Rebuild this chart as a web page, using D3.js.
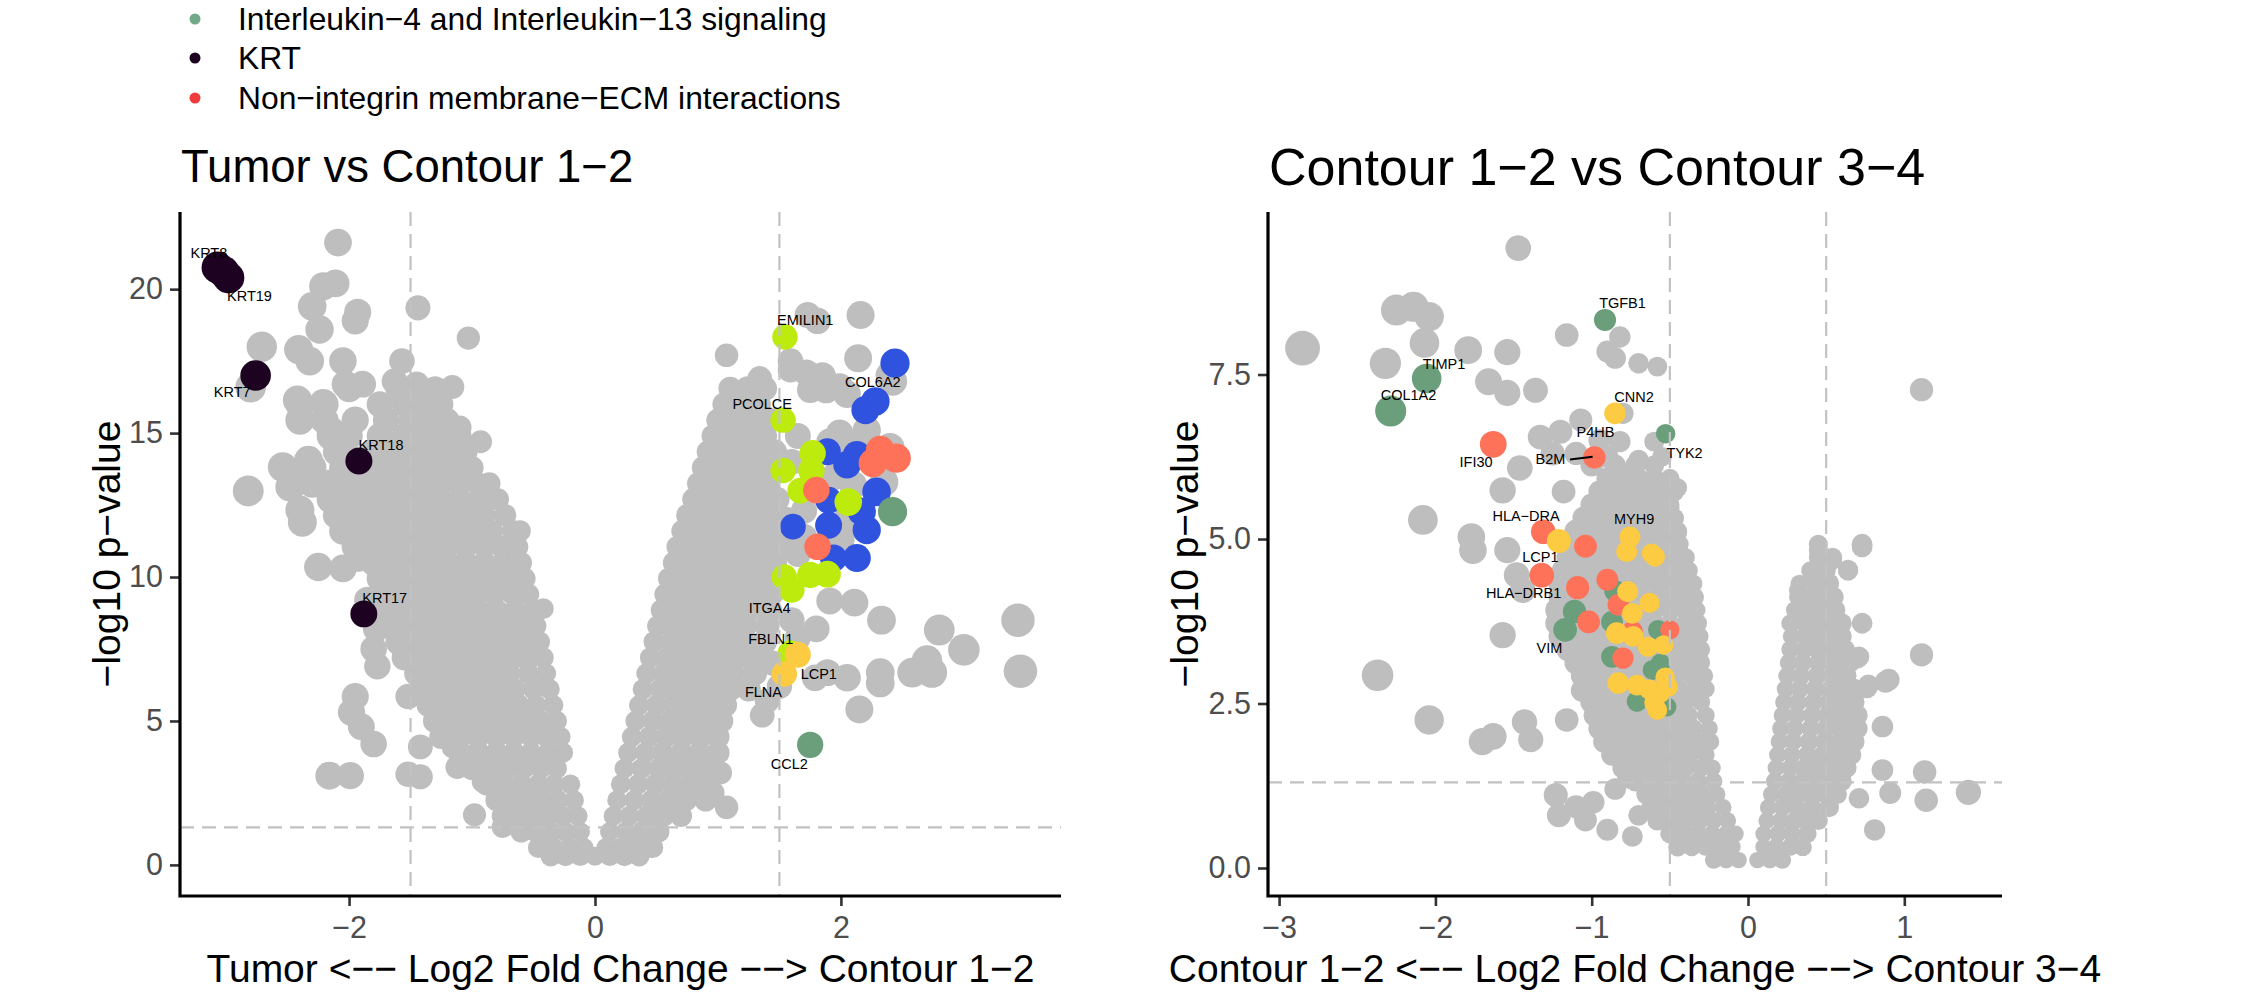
<!DOCTYPE html>
<html><head><meta charset="utf-8">
<script src="https://cdn.jsdelivr.net/npm/d3@7"></script>
<style>body{margin:0;background:#fff} svg{display:block} text{font-family:"Liberation Sans",Arial,Helvetica,sans-serif}</style>
</head><body>
<svg id="c" width="2242" height="1007"></svg>
<script>
// ---------------- DATA ----------------
const legendItems = [
  ["Interleukin\u22124 and Interleukin\u221213 signaling", "#72A98A"],
  ["KRT", "#1E0221"],
  ["Non\u2212integrin membrane\u2212ECM interactions", "#EE3B3B"]
];

// Panel 1: Tumor vs Contour 1-2   rows: [log10p, log2FC values...]
const greyRowsL = [
[0.3,-0.36,-0.24,-0.12,0,0.12,0.24,0.36],
[0.6,-0.46,-0.34,-0.21,-0.09,0.09,0.21,0.33,0.45],
[1.15,-0.6,-0.48,-0.36,-0.24,-0.12,0.12,0.25,0.38,0.52],
[1.7,-0.75,-0.62,-0.5,-0.38,-0.26,-0.14,0.15,0.28,0.42,0.56,0.7],
[2.25,-0.8,-0.67,-0.55,-0.43,-0.3,-0.17,0.18,0.32,0.46,0.6,0.74,0.9],
[2.8,-0.88,-0.74,-0.6,-0.46,-0.33,-0.2,0.21,0.35,0.49,0.63,0.78,0.92],
[3.35,-1.0,-0.86,-0.72,-0.58,-0.44,-0.31,0.24,0.38,0.52,0.66,0.8,0.95],
[3.9,-1.1,-0.95,-0.8,-0.66,-0.52,-0.38,-0.26,0.27,0.41,0.55,0.7,0.85,1.0],
[4.45,-1.25,-1.1,-0.95,-0.8,-0.66,-0.52,-0.4,-0.28,0.3,0.44,0.58,0.72,0.86,1.0],
[5.0,-1.3,-1.15,-1.0,-0.86,-0.72,-0.58,-0.44,-0.31,0.33,0.47,0.61,0.75,0.89,1.03],
[5.55,-1.35,-1.2,-1.05,-0.9,-0.76,-0.62,-0.48,-0.34,0.36,0.5,0.64,0.78,0.92,1.06],
[6.1,-1.4,-1.25,-1.1,-0.95,-0.8,-0.65,-0.5,-0.37,0.39,0.53,0.67,0.81,0.95,1.1,1.25],
[6.65,-1.45,-1.3,-1.15,-1.0,-0.85,-0.7,-0.54,-0.4,0.42,0.56,0.7,0.84,0.98,1.12,1.3],
[7.2,-1.55,-1.4,-1.25,-1.1,-0.95,-0.8,-0.65,-0.52,-0.42,0.45,0.59,0.73,0.87,1.01,1.16,1.32],
[7.75,-1.6,-1.45,-1.3,-1.15,-1.0,-0.86,-0.72,-0.58,-0.45,0.48,0.62,0.76,0.9,1.05,1.2,1.38],
[8.3,-1.65,-1.5,-1.35,-1.2,-1.05,-0.9,-0.76,-0.61,-0.48,0.51,0.65,0.79,0.93,1.07,1.22,1.4],
[8.85,-1.72,-1.56,-1.4,-1.25,-1.1,-0.95,-0.8,-0.65,-0.51,0.54,0.68,0.82,0.96,1.1,1.25,1.42],
[9.4,-1.72,-1.57,-1.42,-1.27,-1.12,-0.97,-0.82,-0.67,-0.54,0.57,0.71,0.85,0.99,1.13,1.28,1.43],
[9.95,-1.75,-1.6,-1.45,-1.3,-1.15,-1.0,-0.85,-0.7,-0.57,0.6,0.74,0.88,1.02,1.16,1.3,1.44],
[10.5,-1.8,-1.65,-1.5,-1.35,-1.2,-1.05,-0.9,-0.75,-0.6,0.64,0.78,0.92,1.06,1.2,1.34,1.46],
[11.05,-1.95,-1.8,-1.65,-1.5,-1.35,-1.2,-1.05,-0.9,-0.76,-0.63,0.67,0.81,0.95,1.09,1.23,1.37,1.48],
[11.6,-2.05,-1.9,-1.75,-1.6,-1.45,-1.3,-1.15,-1.0,-0.84,-0.67,0.71,0.85,0.99,1.13,1.27,1.41],
[12.15,-2.1,-1.95,-1.8,-1.65,-1.5,-1.35,-1.2,-1.05,-0.9,-0.73,0.75,0.89,1.03,1.17,1.31,1.45],
[12.7,-2.15,-2.0,-1.85,-1.7,-1.55,-1.4,-1.25,-1.1,-0.94,-0.79,0.8,0.94,1.08,1.22,1.36,1.48],
[13.25,-2.3,-2.15,-2.0,-1.85,-1.7,-1.55,-1.4,-1.25,-1.1,-0.96,-0.86,0.84,0.98,1.12,1.26,1.4],
[13.8,-2.3,-2.05,-1.9,-1.75,-1.6,-1.45,-1.3,-1.15,-1.0,0.88,1.02,1.16,1.3,1.44],
[14.35,-2.1,-1.8,-1.65,-1.5,-1.35,-1.2,-1.05,0.92,1.06,1.2,1.34,1.46],
[14.9,-2.15,-2.0,-1.75,-1.55,-1.4,-1.25,-1.1,0.96,1.1,1.24,1.38],
[15.45,-2.4,-2.2,-1.95,-1.7,-1.5,-1.35,-1.2,1.0,1.14,1.28,1.42],
[16.0,-2.4,-2.2,-1.75,-1.55,-1.4,-1.25,1.05,1.19,1.33],
[16.55,-2.0,-1.6,-1.45,-1.3,1.1,1.24,1.38]
];
const greyExtraL = [
[-2.09,21.62],[-2.21,20.1],[-2.11,20.2],[-2.30,19.4],[-2.24,18.6],[-1.93,19.2],[-1.95,18.9],[-1.44,19.35],[-1.03,18.3],
[-2.71,18.0],[-2.8,16.6],[-2.41,17.9],[-2.32,17.5],[-2.05,17.5],[-1.57,17.5],[-2.03,16.7],[-1.89,16.7],[-1.63,16.8],
[-1.45,16.7],[-1.37,16.4],[-1.16,16.6],[-2.42,16.15],[-2.21,16.04],[-2.15,15.1],[-1.10,15.2],[-0.93,14.7],[-1.34,14.48],
[-1.18,14.3],[-2.54,13.82],[-2.33,14.06],[-2.48,13.13],[-2.34,13.6],[-2.82,12.99],[-2.4,12.33],[-2.38,11.9],[-2.25,10.35],
[-2.05,10.3],[-1.93,10.65],[-0.61,11.6],[-0.42,8.9],[-1.8,7.5],[-1.77,6.9],[-1.95,5.85],[-1.52,5.85],[-1.32,6.0],[-1.24,5.15],
[-1.42,4.1],[-1.42,3.06],[-1.15,4.1],[-1.12,3.4],[-0.91,2.9],[-0.98,1.74],[-0.75,1.32],[-2.16,3.1],[-1.99,3.1],[-1.8,4.2],
[-1.52,3.15],[-1.98,5.3],[-1.9,4.8],[-1.78,8.2],[-1.85,9.2],
[1.73,19.1],[1.81,18.9],[2.16,19.1],[1.07,17.7],[2.14,17.6],[1.59,17.5],[1.59,17.2],[1.34,16.9],[1.34,16.5],[1.75,16.5],
[1.85,17.0],[1.88,16.5],[1.72,17.1],[1.99,16.6],[2.05,16.35],[2.40,17.0],[2.42,16.8],[2.21,15.1],[1.99,15.0],[2.1,14.55],
[1.91,14.7],[1.65,14.9],[1.6,14.0],[1.95,13.5],[2.1,13.2],[2.35,13.3],[2.4,14.5],[2.0,11.3],[1.7,11.4],[1.65,10.8],
[2.05,12.0],[1.7,12.3],[1.55,12.0],[1.55,11.2],[1.91,9.17],[2.11,9.11],[2.33,8.5],[1.8,8.2],[1.6,8.5],[1.65,7.9],
[2.8,8.16],[3.44,8.5],[3.0,7.47],[2.7,7.1],[2.58,6.68],[2.74,6.68],[2.32,6.32],[2.32,6.68],[2.05,6.5],[1.89,6.68],
[1.79,6.5],[3.46,6.73],[2.15,5.4],[1.36,5.2],[1.02,3.2],[1.5,6.2],[1.45,7.0],[0.47,0.6],[0.96,2.5],[1.07,2.0],[1.4,5.7]
];
const blueL = [[2.44,17.43],[2.2,15.8],[2.28,16.1],[1.89,14.35],[2.13,14.24],[2.05,13.9],[1.9,12.67],[2.29,12.96],[2.17,12.27],[2.21,11.63],[1.61,11.75],[1.9,11.8],[1.94,10.66],[2.13,10.66]];
const limeL = [[1.545,18.34],[1.53,15.45],[1.77,14.3],[1.53,13.7],[1.76,13.7],[1.67,13.0],[2.06,12.6],[1.54,10.0],[1.75,10.07],[1.89,10.1],[1.6,9.55],[1.59,7.36]];
const salmonL = [[2.32,14.41],[2.26,13.96],[2.45,14.13],[1.8,13.02],[1.81,11.05]];
const greenL = [[2.42,12.27],[1.75,4.17]];
const yellowL = [[1.65,7.3],[1.54,6.63]];
const krtL = [[-3.07,20.75],[-3.02,20.6],[-2.98,20.4],[-2.76,17.0],[-1.92,14.03],[-1.88,8.72]];
const labelsL = [["KRT8",-3.14,21.25],["KRT19",-2.81,19.76],["KRT7",-2.95,16.42],["KRT18",-1.74,14.58],["KRT17",-1.71,9.27],
["EMILIN1",1.71,18.92],["COL6A2",2.26,16.79],["PCOLCE",1.36,16.02],["ITGA4",1.42,8.93],["FBLN1",1.43,7.87],["LCP1",1.82,6.64],["FLNA",1.37,6.03],["CCL2",1.58,3.53]];
const xTicksL = [-2, 0, 2];
const yTicksL = [0, 5, 10, 15, 20];

// Panel 2: Contour 1-2 vs Contour 3-4
const greyRowsR = [
[0.12,-0.22,-0.14,-0.06,0.06,0.14,0.22],
[0.32,-0.45,-0.36,-0.27,-0.18,-0.1,0.1,0.18,0.27,0.35],
[0.52,-0.5,-0.41,-0.32,-0.23,-0.14,-0.08,0.1,0.19,0.28,0.38],
[0.72,-0.58,-0.49,-0.4,-0.31,-0.22,-0.13,0.12,0.21,0.3,0.38,0.45],
[0.92,-0.62,-0.53,-0.44,-0.35,-0.26,-0.16,0.13,0.22,0.31,0.41,0.52],
[1.12,-0.65,-0.56,-0.47,-0.38,-0.29,-0.2,0.15,0.24,0.33,0.42,0.5,0.57],
[1.32,-0.72,-0.62,-0.52,-0.42,-0.32,-0.22,0.17,0.26,0.35,0.44,0.52,0.6],
[1.52,-0.8,-0.7,-0.6,-0.5,-0.4,-0.3,-0.23,0.18,0.27,0.36,0.45,0.54,0.63],
[1.72,-0.87,-0.77,-0.67,-0.57,-0.47,-0.37,-0.27,0.19,0.28,0.38,0.48,0.57,0.66],
[1.92,-0.92,-0.82,-0.72,-0.62,-0.52,-0.42,-0.32,-0.24,0.2,0.29,0.39,0.49,0.59,0.68],
[2.12,-0.95,-0.85,-0.75,-0.65,-0.55,-0.45,-0.35,-0.25,0.21,0.3,0.4,0.5,0.6,0.7],
[2.32,-0.98,-0.88,-0.78,-0.68,-0.58,-0.48,-0.38,-0.27,0.22,0.31,0.41,0.51,0.61,0.7],
[2.52,-1.0,-0.9,-0.8,-0.7,-0.6,-0.5,-0.4,-0.3,0.23,0.32,0.42,0.52,0.61,0.68],
[2.72,-1.04,-0.94,-0.84,-0.74,-0.64,-0.54,-0.44,-0.34,-0.27,0.24,0.33,0.43,0.53,0.62,0.68],
[2.92,-1.06,-0.96,-0.86,-0.76,-0.66,-0.56,-0.46,-0.36,-0.28,0.25,0.34,0.44,0.54,0.63],
[3.12,-1.1,-1.0,-0.9,-0.8,-0.7,-0.6,-0.5,-0.4,-0.3,0.26,0.35,0.45,0.55,0.65],
[3.32,-1.15,-1.05,-0.95,-0.85,-0.75,-0.65,-0.55,-0.45,-0.35,-0.3,0.27,0.36,0.45,0.54,0.62],
[3.52,-1.2,-1.09,-0.98,-0.88,-0.78,-0.68,-0.58,-0.48,-0.38,-0.31,0.28,0.37,0.46,0.55,0.6],
[3.72,-1.22,-1.11,-1.0,-0.9,-0.8,-0.7,-0.6,-0.5,-0.4,-0.32,0.27,0.36,0.45,0.53,0.6],
[3.92,-1.22,-1.11,-1.0,-0.9,-0.8,-0.7,-0.6,-0.5,-0.41,-0.33,0.3,0.39,0.48,0.56],
[4.12,-1.2,-1.09,-0.98,-0.88,-0.78,-0.68,-0.58,-0.48,-0.4,-0.34,0.32,0.41,0.5,0.55],
[4.32,-1.2,-1.09,-0.98,-0.88,-0.78,-0.68,-0.58,-0.49,-0.42,-0.35,0.33,0.43,0.52],
[4.52,-1.18,-1.07,-0.96,-0.86,-0.76,-0.66,-0.56,-0.47,-0.38,0.4,0.5,0.64],
[4.72,-1.15,-1.05,-0.95,-0.85,-0.75,-0.65,-0.55,-0.47,-0.4,0.45,0.54],
[4.92,-1.12,-1.02,-0.92,-0.82,-0.72,-0.62,-0.52,-0.44,0.45,0.73],
[5.12,-1.1,-1.0,-0.9,-0.8,-0.7,-0.6,-0.51,-0.45],
[5.32,-1.05,-0.95,-0.85,-0.75,-0.65,-0.56,-0.47],
[5.52,-1.0,-0.9,-0.8,-0.7,-0.6,-0.5],
[5.72,-0.95,-0.85,-0.75,-0.65,-0.55,-0.47],
[5.92,-0.9,-0.8,-0.7,-0.6,-0.5],
[6.12,-1.0,-0.85,-0.72,-0.6]
];
const greyExtraR = [
[-1.47,9.42],[-2.25,8.48],[-2.14,8.53],[-2.04,8.38],[-2.07,7.98],[-2.85,7.9],[-2.32,7.67],[-1.79,7.87],[-1.54,7.84],[-1.16,8.1],
[-0.82,8.07],[-0.9,7.85],[-0.85,7.75],[-0.7,7.67],[-0.58,7.62],[-1.66,7.39],[-1.54,7.22],[-1.36,7.26],[-1.07,6.81],[-1.2,6.63],
[-1.33,6.55],[-0.95,6.5],[-0.82,6.48],[-0.6,6.48],[-0.7,6.2],[-0.8,6.91],[-1.46,6.08],[-1.57,5.74],[-1.18,5.72],[-1.25,6.3],
[-1.1,6.3],[-0.9,6.25],[-0.55,6.25],[-0.51,5.78],[-0.45,5.78],[-0.5,5.47],[-0.45,5.1],[-2.08,5.29],[-1.77,5.03],[-1.76,4.83],
[-1.54,4.83],[-1.48,4.45],[-1.44,4.22],[-1.57,3.54],[-2.37,2.93],[-2.04,2.25],[-1.7,1.92],[-1.63,2.0],[-1.43,2.22],[-1.39,1.95],
[-1.16,2.25],[-1.06,2.7],[-1.23,1.11],[-1.1,0.93],[-0.99,1.0],[-1.21,0.8],[-1.04,0.73],[-0.9,0.58],[-0.74,0.48],[-0.77,1.37],
[-0.85,1.2],[-0.7,0.8],
[1.11,7.27],[0.71,3.21],[0.77,2.78],[0.88,2.83],[1.11,3.24],[0.86,2.15],[0.86,1.49],[1.13,1.46],[0.91,1.14],[1.14,1.03],
[0.81,0.58],[0.71,1.06],[0.45,4.83],[0.54,4.68],[0.64,4.53],[0.73,4.88],[0.52,4.33],[0.32,4.22],[0.73,3.72],[0.7,3.19],
[0.9,2.86],[0.76,2.74],[1.41,1.15]
];
const greenR = [[-0.915,8.33],[-2.056,7.44],[-2.286,6.945],[-0.527,6.6],[-0.85,4.21],[-1.11,3.9],[-1.17,3.62],[-0.87,3.74],
[-0.576,3.62],[-0.87,3.21],[-0.61,3.01],[-0.71,2.53],[-0.52,2.45],[-0.56,3.11]];
const redR = [[-1.63,6.44],[-0.983,6.24],[-1.31,5.11],[-1.04,4.89],[-1.32,4.45],[-1.09,4.26],[-0.9,4.38],[-0.83,4.0],
[-1.02,3.74],[-0.5,3.62],[-0.8,3.19],[-0.74,3.6]];
const yellowR = [[-0.851,6.91],[-1.21,4.97],[-0.755,5.03],[-0.776,4.81],[-0.616,4.78],[-0.595,4.73],[-0.77,4.2],[-0.63,4.03],
[-0.74,3.87],[-0.84,3.57],[-0.735,3.52],[-0.64,3.36],[-0.54,3.39],[-0.83,2.81],[-0.71,2.78],[-0.63,2.71],[-0.56,2.66],
[-0.53,2.9],[-0.51,2.75],[-0.58,2.40],[-0.6,2.51]];
const labelsR = [["TGFB1",-0.803,8.59],["TIMP1",-1.945,7.67],["COL1A2",-2.172,7.19],["CNN2",-0.729,7.16],["P4HB",-0.976,6.63],
["TYK2",-0.406,6.31],["IFI30",-1.74,6.17],["B2M",-1.264,6.22],["HLA\u2212DRA",-1.42,5.36],["MYH9",-0.729,5.30],
["LCP1",-1.328,4.73],["HLA\u2212DRB1",-1.436,4.18],["VIM",-1.27,3.34]];
const segR = [[[-1.139,6.21],[-0.994,6.25]]];
const xTicksR = [-3, -2, -1, 0, 1];
const yTicksR = [0, 2.5, 5, 7.5];

// ---------------- DRAW ----------------
const svg = d3.select('#c');
const FONT = '"Liberation Sans",Arial,Helvetica,sans-serif';
const C = {grey:"#BEBEBE", blue:"#3053DF", lime:"#BDEB0E", salmon:"#FE725A", green:"#6B9E7B", yellow:"#FCCB42", krt:"#1E0221"};

function rowsToPts(rows){ const out=[]; rows.forEach(r=>{ for(let i=1;i<r.length;i++) out.push([r[i], r[0]]); }); return out; }

function panel(cfg){
  const g = svg.append('g');
  const x = d3.scaleLinear().domain(cfg.xDomain).range([cfg.px0, cfg.px1]);
  const y = d3.scaleLinear().domain(cfg.yDomain).range([cfg.py1, cfg.py0]);
  const r = d3.scaleLinear().domain([0, cfg.rMaxX]).range(cfg.rRange);
  const greys = rowsToPts(cfg.greyRows).concat(cfg.greyExtra);
  const layers = [{pts:greys, color:C.grey}].concat(cfg.groups);
  layers.forEach(L=>{
    g.append('g').selectAll('circle').data(L.pts).join('circle')
      .attr('cx', d=>x(d[0])).attr('cy', d=>y(d[1])).attr('r', d=>r(Math.abs(d[0])))
      .attr('fill', L.color);
  });
  // threshold lines on top
  const dl = g.append('g').attr('stroke', '#C2C2C2').attr('stroke-width', 2.2).attr('stroke-dasharray', '14,8').attr('fill','none');
  cfg.vlines.forEach(v=> dl.append('line').attr('x1', x(v)).attr('x2', x(v)).attr('y1', cfg.py0).attr('y2', cfg.py1));
  dl.append('line').attr('x1', cfg.px0).attr('x2', cfg.px1).attr('y1', y(cfg.hline)).attr('y2', y(cfg.hline));
  // labels
  g.append('g').selectAll('text').data(cfg.labels).join('text')
    .attr('x', d=>x(d[1])).attr('y', d=>y(d[2])).attr('dy','0.36em')
    .attr('text-anchor','middle').attr('font-size', 14.5).attr('fill','#000').text(d=>d[0]);
  g.append('g').selectAll('line').data(cfg.segs||[]).join('line')
    .attr('x1', d=>x(d[0][0])).attr('y1', d=>y(d[0][1])).attr('x2', d=>x(d[1][0])).attr('y2', d=>y(d[1][1]))
    .attr('stroke','#000').attr('stroke-width',2);
  // axes
  const ax = g.append('g').attr('transform', `translate(0,${cfg.py1})`)
    .call(d3.axisBottom(x).tickValues(cfg.xTicks).tickSize(10).tickPadding(9).tickSizeOuter(0).tickFormat(cfg.xFmt));
  const ay = g.append('g').attr('transform', `translate(${cfg.px0},0)`)
    .call(d3.axisLeft(y).tickValues(cfg.yTicks).tickSize(10).tickPadding(7).tickSizeOuter(0).tickFormat(cfg.yFmt));
  [ax, ay].forEach(a=>{
    a.select('.domain').remove();
    a.selectAll('.tick line').attr('stroke','#333333').attr('stroke-width',2.6);
    a.selectAll('.tick text').attr('fill','#4D4D4D').attr('font-size',30.5).attr('font-family',FONT);
  });
  ax.selectAll('.tick text').attr('dy','0.74em');
  g.append('path').attr('d', `M${cfg.px0},${cfg.py0}V${cfg.py1}H${cfg.px1}`)
    .attr('fill','none').attr('stroke','#000').attr('stroke-width',3.2).attr('stroke-linejoin','miter');
  // titles
  g.append('text').attr('x', cfg.px0+1).attr('y', cfg.titleY).attr('font-size', cfg.titleSize).attr('fill','#000').text(cfg.title);
  g.append('text').attr('x', (cfg.px0+cfg.px1)/2).attr('y', 982).attr('text-anchor','middle').attr('font-size', 39).attr('fill','#000').text(cfg.xlabel);
  g.append('text').attr('transform', `translate(${cfg.ylabX},${(cfg.py0+cfg.py1)/2}) rotate(-90)`).attr('text-anchor','middle')
    .attr('font-size', 39).attr('fill','#000').text('\u2212log10 p\u2212value');
}

const fmtInt = d3.format('d');
const fmt1 = d3.format('.1f');

panel({
  px0:180, px1:1061, py0:212, py1:896,
  xDomain:[-3.375, 3.79], yDomain:[-1.08, 22.68],
  rMaxX:3.5, rRange:[9.5, 16.85],
  greyRows:greyRowsL, greyExtra:greyExtraL,
  groups:[{pts:blueL,color:C.blue},{pts:limeL,color:C.lime},{pts:salmonL,color:C.salmon},{pts:greenL,color:C.green},{pts:yellowL,color:C.yellow},{pts:krtL,color:C.krt}],
  vlines:[-1.5, 1.5], hline:1.30103,
  labels:labelsL, segs:[],
  xTicks:xTicksL, yTicks:yTicksL, xFmt:fmtInt, yFmt:fmtInt,
  title:"Tumor vs Contour 1\u22122", titleSize:45.5, titleY:182,
  xlabel:"Tumor <\u2212\u2212 Log2 Fold Change \u2212\u2212> Contour 1\u22122",
  ylabX:120
});

panel({
  px0:1268, px1:2002, py0:212, py1:896,
  xDomain:[-3.071, 1.625], yDomain:[-0.4255, 9.97],
  rMaxX:2.85, rRange:[8, 17.4],
  greyRows:greyRowsR, greyExtra:greyExtraR,
  groups:[{pts:greenR,color:C.green},{pts:redR,color:C.salmon},{pts:yellowR,color:C.yellow}],
  vlines:[-0.5, 0.5], hline:1.30103,
  labels:labelsR, segs:segR,
  xTicks:xTicksR, yTicks:yTicksR, xFmt:fmtInt, yFmt:fmt1,
  title:"Contour 1\u22122 vs Contour 3\u22124", titleSize:52, titleY:185,
  xlabel:"Contour 1\u22122 <\u2212\u2212 Log2 Fold Change \u2212\u2212> Contour 3\u22124",
  ylabX:1198
});

// legend (partially cropped at top in reference)
const lg = svg.append('g');
legendItems.forEach((d,i)=>{
  const cy = [19, 58, 98][i];
  lg.append('circle').attr('cx',195).attr('cy',cy).attr('r',5.5).attr('fill',d[1]);
  lg.append('text').attr('x',238).attr('y',cy).attr('dy','0.36em').attr('font-size',31.8).attr('fill','#000').text(d[0]);
});
</script>
</body></html>
